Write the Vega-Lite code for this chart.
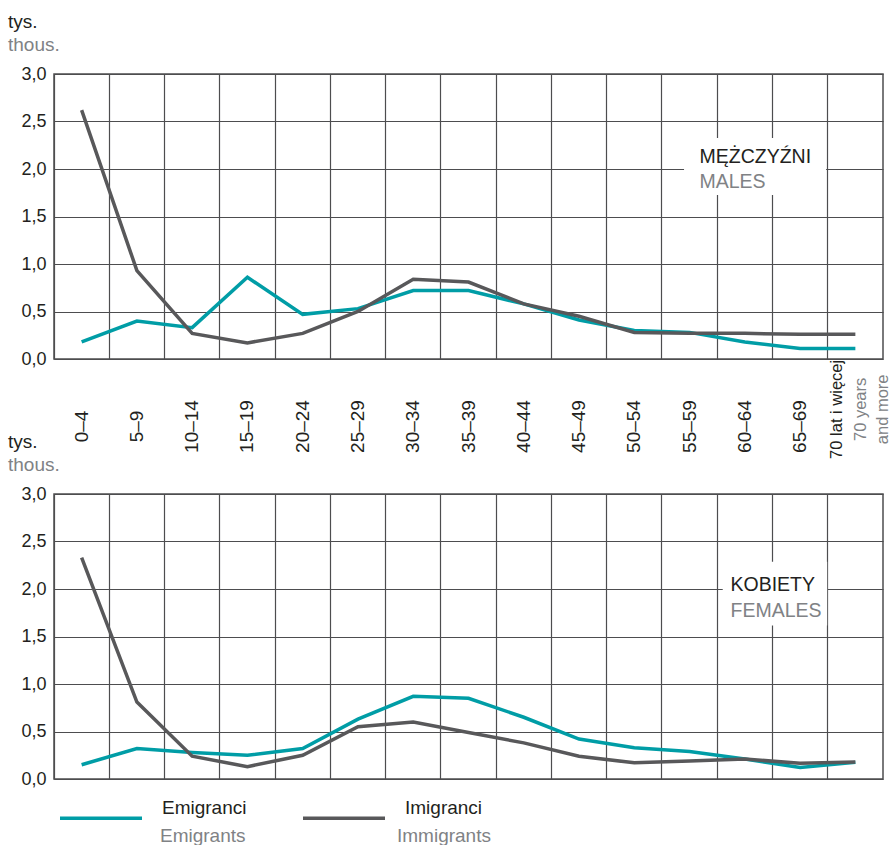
{
  "$schema": "https://vega.github.io/schema/vega-lite/v6.json",
  "padding": {"left": 7, "top": 12, "right": 5, "bottom": 0},
  "background": "white",
  "bounds": "flush",
  "spacing": 135,
  "config": {
    "font": "Liberation Sans",
    "view": {"stroke": "#4d4d4f", "strokeWidth": 1.5},
    "axis": {"gridColor": "#4d4d4f", "gridWidth": 1.2, "gridOpacity": 1, "domain": false, "ticks": false, "tickSize": 0, "labelColor": "#231f20", "labelFont": "Liberation Sans"},
    "title": {"font": "Liberation Sans", "fontSize": 19, "fontWeight": "normal", "color": "#231f20", "subtitleFont": "Liberation Sans", "subtitleFontSize": 19, "subtitleColor": "#808285", "subtitlePadding": 4, "anchor": "start", "frame": "group", "dx": -46, "offset": 10},
    "legend": {"padding": 0, "labelFont": "Liberation Sans"}
  },
  "datasets": {
    "d": [
      {"sex": "M", "age": "0–4", "series": "Emigranci", "series_en": "Emigrants", "v": 0.18},
      {"sex": "M", "age": "5–9", "series": "Emigranci", "series_en": "Emigrants", "v": 0.40},
      {"sex": "M", "age": "10–14", "series": "Emigranci", "series_en": "Emigrants", "v": 0.33},
      {"sex": "M", "age": "15–19", "series": "Emigranci", "series_en": "Emigrants", "v": 0.86},
      {"sex": "M", "age": "20–24", "series": "Emigranci", "series_en": "Emigrants", "v": 0.47},
      {"sex": "M", "age": "25–29", "series": "Emigranci", "series_en": "Emigrants", "v": 0.53},
      {"sex": "M", "age": "30–34", "series": "Emigranci", "series_en": "Emigrants", "v": 0.72},
      {"sex": "M", "age": "35–39", "series": "Emigranci", "series_en": "Emigrants", "v": 0.72},
      {"sex": "M", "age": "40–44", "series": "Emigranci", "series_en": "Emigrants", "v": 0.58},
      {"sex": "M", "age": "45–49", "series": "Emigranci", "series_en": "Emigrants", "v": 0.41},
      {"sex": "M", "age": "50–54", "series": "Emigranci", "series_en": "Emigrants", "v": 0.30},
      {"sex": "M", "age": "55–59", "series": "Emigranci", "series_en": "Emigrants", "v": 0.28},
      {"sex": "M", "age": "60–64", "series": "Emigranci", "series_en": "Emigrants", "v": 0.18},
      {"sex": "M", "age": "65–69", "series": "Emigranci", "series_en": "Emigrants", "v": 0.11},
      {"sex": "M", "age": "70+", "series": "Emigranci", "series_en": "Emigrants", "v": 0.11},
      {"sex": "M", "age": "0–4", "series": "Imigranci", "series_en": "Immigrants", "v": 2.62},
      {"sex": "M", "age": "5–9", "series": "Imigranci", "series_en": "Immigrants", "v": 0.93},
      {"sex": "M", "age": "10–14", "series": "Imigranci", "series_en": "Immigrants", "v": 0.27},
      {"sex": "M", "age": "15–19", "series": "Imigranci", "series_en": "Immigrants", "v": 0.17},
      {"sex": "M", "age": "20–24", "series": "Imigranci", "series_en": "Immigrants", "v": 0.27},
      {"sex": "M", "age": "25–29", "series": "Imigranci", "series_en": "Immigrants", "v": 0.50},
      {"sex": "M", "age": "30–34", "series": "Imigranci", "series_en": "Immigrants", "v": 0.84},
      {"sex": "M", "age": "35–39", "series": "Imigranci", "series_en": "Immigrants", "v": 0.81},
      {"sex": "M", "age": "40–44", "series": "Imigranci", "series_en": "Immigrants", "v": 0.58},
      {"sex": "M", "age": "45–49", "series": "Imigranci", "series_en": "Immigrants", "v": 0.45},
      {"sex": "M", "age": "50–54", "series": "Imigranci", "series_en": "Immigrants", "v": 0.28},
      {"sex": "M", "age": "55–59", "series": "Imigranci", "series_en": "Immigrants", "v": 0.27},
      {"sex": "M", "age": "60–64", "series": "Imigranci", "series_en": "Immigrants", "v": 0.27},
      {"sex": "M", "age": "65–69", "series": "Imigranci", "series_en": "Immigrants", "v": 0.26},
      {"sex": "M", "age": "70+", "series": "Imigranci", "series_en": "Immigrants", "v": 0.26},
      {"sex": "F", "age": "0–4", "series": "Emigranci", "series_en": "Emigrants", "v": 0.15},
      {"sex": "F", "age": "5–9", "series": "Emigranci", "series_en": "Emigrants", "v": 0.32},
      {"sex": "F", "age": "10–14", "series": "Emigranci", "series_en": "Emigrants", "v": 0.28},
      {"sex": "F", "age": "15–19", "series": "Emigranci", "series_en": "Emigrants", "v": 0.25},
      {"sex": "F", "age": "20–24", "series": "Emigranci", "series_en": "Emigrants", "v": 0.32},
      {"sex": "F", "age": "25–29", "series": "Emigranci", "series_en": "Emigrants", "v": 0.63},
      {"sex": "F", "age": "30–34", "series": "Emigranci", "series_en": "Emigrants", "v": 0.87},
      {"sex": "F", "age": "35–39", "series": "Emigranci", "series_en": "Emigrants", "v": 0.85},
      {"sex": "F", "age": "40–44", "series": "Emigranci", "series_en": "Emigrants", "v": 0.65},
      {"sex": "F", "age": "45–49", "series": "Emigranci", "series_en": "Emigrants", "v": 0.42},
      {"sex": "F", "age": "50–54", "series": "Emigranci", "series_en": "Emigrants", "v": 0.33},
      {"sex": "F", "age": "55–59", "series": "Emigranci", "series_en": "Emigrants", "v": 0.29},
      {"sex": "F", "age": "60–64", "series": "Emigranci", "series_en": "Emigrants", "v": 0.21},
      {"sex": "F", "age": "65–69", "series": "Emigranci", "series_en": "Emigrants", "v": 0.12},
      {"sex": "F", "age": "70+", "series": "Emigranci", "series_en": "Emigrants", "v": 0.175},
      {"sex": "F", "age": "0–4", "series": "Imigranci", "series_en": "Immigrants", "v": 2.33},
      {"sex": "F", "age": "5–9", "series": "Imigranci", "series_en": "Immigrants", "v": 0.81},
      {"sex": "F", "age": "10–14", "series": "Imigranci", "series_en": "Immigrants", "v": 0.24},
      {"sex": "F", "age": "15–19", "series": "Imigranci", "series_en": "Immigrants", "v": 0.13},
      {"sex": "F", "age": "20–24", "series": "Imigranci", "series_en": "Immigrants", "v": 0.25},
      {"sex": "F", "age": "25–29", "series": "Imigranci", "series_en": "Immigrants", "v": 0.55},
      {"sex": "F", "age": "30–34", "series": "Imigranci", "series_en": "Immigrants", "v": 0.60},
      {"sex": "F", "age": "35–39", "series": "Imigranci", "series_en": "Immigrants", "v": 0.49},
      {"sex": "F", "age": "40–44", "series": "Imigranci", "series_en": "Immigrants", "v": 0.38},
      {"sex": "F", "age": "45–49", "series": "Imigranci", "series_en": "Immigrants", "v": 0.24},
      {"sex": "F", "age": "50–54", "series": "Imigranci", "series_en": "Immigrants", "v": 0.17},
      {"sex": "F", "age": "55–59", "series": "Imigranci", "series_en": "Immigrants", "v": 0.19},
      {"sex": "F", "age": "60–64", "series": "Imigranci", "series_en": "Immigrants", "v": 0.21},
      {"sex": "F", "age": "65–69", "series": "Imigranci", "series_en": "Immigrants", "v": 0.165},
      {"sex": "F", "age": "70+", "series": "Imigranci", "series_en": "Immigrants", "v": 0.18}
    ]
  },
  "vconcat": [
    {
      "width": 829,
      "height": 285,
      "title": {"text": "tys.", "subtitle": "thous."},
      "resolve": {"scale": {"x": "independent"}},
      "layer": [
        {
          "data": {"name": "d"},
          "transform": [{"filter": "datum.sex == 'M'"}],
          "mark": {"type": "line", "strokeWidth": 3.5, "strokeCap": "butt"},
          "encoding": {
            "x": {
              "field": "age", "type": "nominal",
              "scale": {"type": "band", "paddingInner": 0, "paddingOuter": 0, "domain": ["0–4", "5–9", "10–14", "15–19", "20–24", "25–29", "30–34", "35–39", "40–44", "45–49", "50–54", "55–59", "60–64", "65–69", "70+"]},
              "axis": {"orient": "bottom", "title": null, "grid": true, "bandPosition": 0, "labelAngle": 270, "labelAlign": "center", "labelBaseline": "middle", "labelPadding": 67, "labelFontSize": 19, "labelOverlap": false, "labelBound": false, "labelFlush": false, "labelExpr": "datum.value == '70+' ? '' : datum.value"}
            },
            "y": {
              "field": "v", "type": "quantitative",
              "scale": {"domain": [0, 3], "nice": false},
              "axis": {"title": null, "values": [0, 0.5, 1, 1.5, 2, 2.5, 3], "grid": true, "labelFontSize": 18, "labelPadding": 8, "labelExpr": "replace(format(datum.value, '.1f'), '.', ',')"}
            },
            "color": {
              "field": "series", "type": "nominal",
              "scale": {"domain": ["Emigranci", "Imigranci"], "range": ["#009da6", "#58585a"]},
              "legend": {"orient": "none", "legendX": 4, "legendY": 701, "direction": "horizontal", "columns": 2, "title": null, "symbolType": "stroke", "symbolSize": 6724, "symbolStrokeWidth": 3.5, "labelExpr": "[datum.label, '']", "labelFontSize": 19, "labelBaseline": "bottom", "labelColor": "#231f20", "labelOffset": 18, "columnPadding": 49, "labelLimit": 300, "encode": {"labels": {"update": {"lineHeight": {"value": 28.4}}}}}
            },
            "opacity": {
              "field": "series_en", "type": "nominal",
              "scale": {"type": "ordinal", "domain": ["Emigrants", "Immigrants"], "range": [1, 1]},
              "legend": {"orient": "none", "legendX": 4, "legendY": 701, "direction": "horizontal", "columns": 2, "title": null, "symbolType": "M0,0", "symbolSize": 6724, "labelExpr": "['', datum.label]", "labelFontSize": 19, "labelBaseline": "bottom", "labelColor": "#808285", "labelOffset": 18, "columnPadding": 49, "labelLimit": 300, "encode": {"labels": {"update": {"lineHeight": {"value": 28.4}}}}}
            }
          }
        },
        {
          "data": {"values": [{}]},
          "mark": {"type": "rect", "fill": "white"},
          "encoding": {
            "x": {"datum": 11.4, "type": "quantitative", "scale": {"domain": [0, 15], "nice": false, "zero": false}, "axis": null},
            "x2": {"datum": 13.97},
            "y": {"datum": 2.326, "type": "quantitative"},
            "y2": {"datum": 1.726}
          }
        },
        {
          "data": {"values": [{}]},
          "mark": {"type": "text", "text": "MĘŻCZYŹNI", "align": "left", "baseline": "alphabetic", "fontSize": 19.5, "fill": "#231f20"},
          "encoding": {
            "x": {"datum": 11.68, "type": "quantitative", "scale": {"domain": [0, 15], "nice": false, "zero": false}, "axis": null},
            "y": {"datum": 2.066, "type": "quantitative"}
          }
        },
        {
          "data": {"values": [{}]},
          "mark": {"type": "text", "text": "MALES", "align": "left", "baseline": "alphabetic", "fontSize": 19.5, "fill": "#808285"},
          "encoding": {
            "x": {"datum": 11.68, "type": "quantitative", "scale": {"domain": [0, 15], "nice": false, "zero": false}, "axis": null},
            "y": {"datum": 1.80, "type": "quantitative"}
          }
        },
        {
          "data": {"values": [{}]},
          "mark": {"type": "text", "text": "70 lat i więcej", "align": "center", "baseline": "middle", "angle": 270, "dy": -18, "fontSize": 16.5, "fill": "#231f20"},
          "encoding": {
            "x": {"datum": "70+", "type": "nominal", "scale": {"type": "band", "paddingInner": 0, "paddingOuter": 0, "domain": ["0–4", "5–9", "10–14", "15–19", "20–24", "25–29", "30–34", "35–39", "40–44", "45–49", "50–54", "55–59", "60–64", "65–69", "70+"]}, "axis": null},
            "y": {"datum": -0.53, "type": "quantitative"}
          }
        },
        {
          "data": {"values": [{}]},
          "mark": {"type": "text", "text": ["70 years", "and more"], "align": "center", "baseline": "middle", "angle": 270, "dy": 6, "fontSize": 16.5, "lineHeight": 21.5, "fill": "#808285"},
          "encoding": {
            "x": {"datum": "70+", "type": "nominal", "scale": {"type": "band", "paddingInner": 0, "paddingOuter": 0, "domain": ["0–4", "5–9", "10–14", "15–19", "20–24", "25–29", "30–34", "35–39", "40–44", "45–49", "50–54", "55–59", "60–64", "65–69", "70+"]}, "axis": null},
            "y": {"datum": -0.53, "type": "quantitative"}
          }
        }
      ]
    },
    {
      "width": 829,
      "height": 285,
      "title": {"text": "tys.", "subtitle": "thous."},
      "resolve": {"scale": {"x": "independent"}},
      "layer": [
        {
          "data": {"name": "d"},
          "transform": [{"filter": "datum.sex == 'F'"}],
          "mark": {"type": "line", "strokeWidth": 3.5, "strokeCap": "butt"},
          "encoding": {
            "x": {
              "field": "age", "type": "nominal",
              "scale": {"type": "band", "paddingInner": 0, "paddingOuter": 0, "domain": ["0–4", "5–9", "10–14", "15–19", "20–24", "25–29", "30–34", "35–39", "40–44", "45–49", "50–54", "55–59", "60–64", "65–69", "70+"]},
              "axis": {"orient": "bottom", "title": null, "grid": true, "bandPosition": 0, "labels": false}
            },
            "y": {
              "field": "v", "type": "quantitative",
              "scale": {"domain": [0, 3], "nice": false},
              "axis": {"title": null, "values": [0, 0.5, 1, 1.5, 2, 2.5, 3], "grid": true, "labelFontSize": 18, "labelPadding": 8, "labelExpr": "replace(format(datum.value, '.1f'), '.', ',')"}
            },
            "color": {
              "field": "series", "type": "nominal",
              "scale": {"domain": ["Emigranci", "Imigranci"], "range": ["#009da6", "#58585a"]},
              "legend": {"orient": "none", "legendX": 4, "legendY": 701, "direction": "horizontal", "columns": 2, "title": null, "symbolType": "stroke", "symbolSize": 6724, "symbolStrokeWidth": 3.5, "labelExpr": "[datum.label, '']", "labelFontSize": 19, "labelBaseline": "bottom", "labelColor": "#231f20", "labelOffset": 18, "columnPadding": 49, "labelLimit": 300, "encode": {"labels": {"update": {"lineHeight": {"value": 28.4}}}}}
            },
            "opacity": {
              "field": "series_en", "type": "nominal",
              "scale": {"type": "ordinal", "domain": ["Emigrants", "Immigrants"], "range": [1, 1]},
              "legend": {"orient": "none", "legendX": 4, "legendY": 701, "direction": "horizontal", "columns": 2, "title": null, "symbolType": "M0,0", "symbolSize": 6724, "labelExpr": "['', datum.label]", "labelFontSize": 19, "labelBaseline": "bottom", "labelColor": "#808285", "labelOffset": 18, "columnPadding": 49, "labelLimit": 300, "encode": {"labels": {"update": {"lineHeight": {"value": 28.4}}}}}
            }
          }
        },
        {
          "data": {"values": [{}]},
          "mark": {"type": "rect", "fill": "white"},
          "encoding": {
            "x": {"datum": 12.1, "type": "quantitative", "scale": {"domain": [0, 15], "nice": false, "zero": false}, "axis": null},
            "x2": {"datum": 13.99},
            "y": {"datum": 2.287, "type": "quantitative"},
            "y2": {"datum": 1.615}
          }
        },
        {
          "data": {"values": [{}]},
          "mark": {"type": "text", "text": "KOBIETY", "align": "left", "baseline": "alphabetic", "fontSize": 19.5, "fill": "#231f20"},
          "encoding": {
            "x": {"datum": 12.24, "type": "quantitative", "scale": {"domain": [0, 15], "nice": false, "zero": false}, "axis": null},
            "y": {"datum": 1.983, "type": "quantitative"}
          }
        },
        {
          "data": {"values": [{}]},
          "mark": {"type": "text", "text": "FEMALES", "align": "left", "baseline": "alphabetic", "fontSize": 19.5, "fill": "#808285"},
          "encoding": {
            "x": {"datum": 12.24, "type": "quantitative", "scale": {"domain": [0, 15], "nice": false, "zero": false}, "axis": null},
            "y": {"datum": 1.71, "type": "quantitative"}
          }
        }
      ]
    }
  ]
}
